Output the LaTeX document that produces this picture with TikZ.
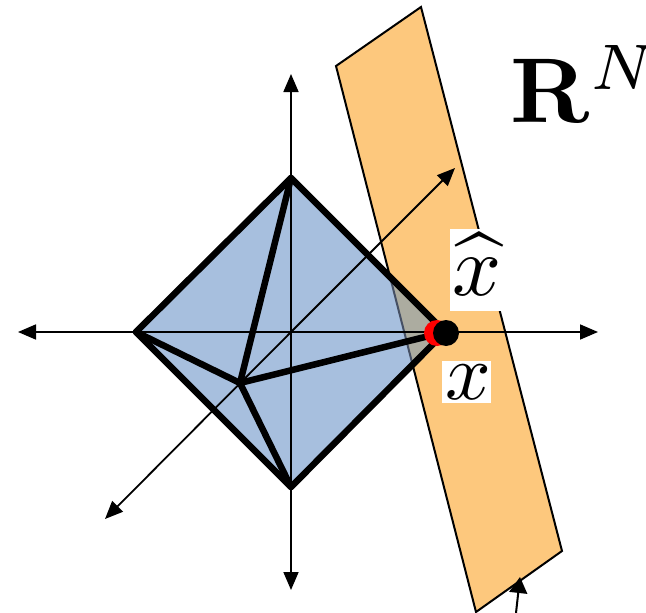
\documentclass[tikz,border=0pt]{standalone}
\usepackage{amsmath}
\usetikzlibrary{arrows.meta}
\definecolor{planeorange}{RGB}{253,200,125}
\definecolor{octablue}{RGB}{167,191,222}
\definecolor{overlapgrey}{RGB}{172,172,160}
\definecolor{planeedge}{RGB}{70,80,100}
\tikzset{
  axis/.style={line width=1.8pt,-{Triangle[length=18pt,width=15pt]}, shorten >=0pt},
  platefill/.style={fill=planeorange,draw=black,line width=2pt,line join=miter},
  octaedge/.style={line width=6.5pt,line cap=round,line join=round,draw=black},
  bigsym/.style={inner sep=0pt,text=black},
  pt/.style={circle,inner sep=0pt,minimum size=#1},
}
\begin{document}
\begin{tikzpicture}[x=1pt,y=-1pt]
\useasboundingbox (0,0) rectangle (646,613);
% corners
\coordinate (pa) at (336,66);
\coordinate (pb) at (421,7);
\coordinate (pc) at (562,551);
\coordinate (pd) at (476,612);
\coordinate (ol) at (136,332);
\coordinate (ot) at (291,178);
\coordinate (or) at (445,332);
\coordinate (ob) at (291,487);
\coordinate (ok) at (240,383);
\coordinate (hl) at (18,332);
\coordinate (hr) at (598,332);
\coordinate (vt) at (291,74);
\coordinate (vb) at (291,590);
\coordinate (dt) at (455,168);
\coordinate (db) at (105,519);
\coordinate (at) at (520,577);
\coordinate (as) at (516,613);
% plane
\path[platefill] (pa) -- (pb) -- (pc) -- (pd) -- cycle;
% octahedron fill
\fill[octablue] (ol) -- (ot) -- (or) -- (ob) -- cycle;
\begin{scope}
  \clip (ol) -- (ot) -- (or) -- (ob) -- cycle;
  \fill[overlapgrey] (pa) -- (pb) -- (pc) -- (pd) -- cycle;
  \draw[planeedge,line width=2pt] (pa) -- (pd);
\end{scope}
% axes
\draw[axis] (291,332) -- (hl);
\draw[axis] (291,332) -- (hr);
\draw[axis] (291,332) -- (vt);
\draw[axis] (291,332) -- (vb);
\draw[axis] (291,332) -- (dt);
\draw[axis] (291,332) -- (db);
% octahedron edges
\draw[octaedge] (ol) -- (ot) -- (or) -- (ob) -- cycle;
\draw[octaedge] (ok) -- (ol);
\draw[octaedge] (ok) -- (ot);
\draw[octaedge] (ok) -- (or);
\draw[octaedge] (ok) -- (ob);
% small arrow
\draw[line width=2pt,-{Triangle[length=16pt,width=18pt]}] (as) -- (at);
% white label boxes
\fill[white] (450,229) rectangle (503,311);
\fill[white] (442,361) rectangle (491,403);
% dots
\node[pt=26pt,fill=red] (redpt) at (437,333) {};
\node[pt=26pt,fill=black] (blackpt) at (446,333) {};
% labels
\node[bigsym,scale=8.6] (xhat) at (477,264) {$\widehat{x}$};
\node[bigsym,scale=8] (xlab) at (468,382) {$x$};
\node[bigsym,scale=9.2,anchor=west] (rn) at (509,84) {$\mathbf{R}^{N}$};
\end{tikzpicture}
\end{document}
